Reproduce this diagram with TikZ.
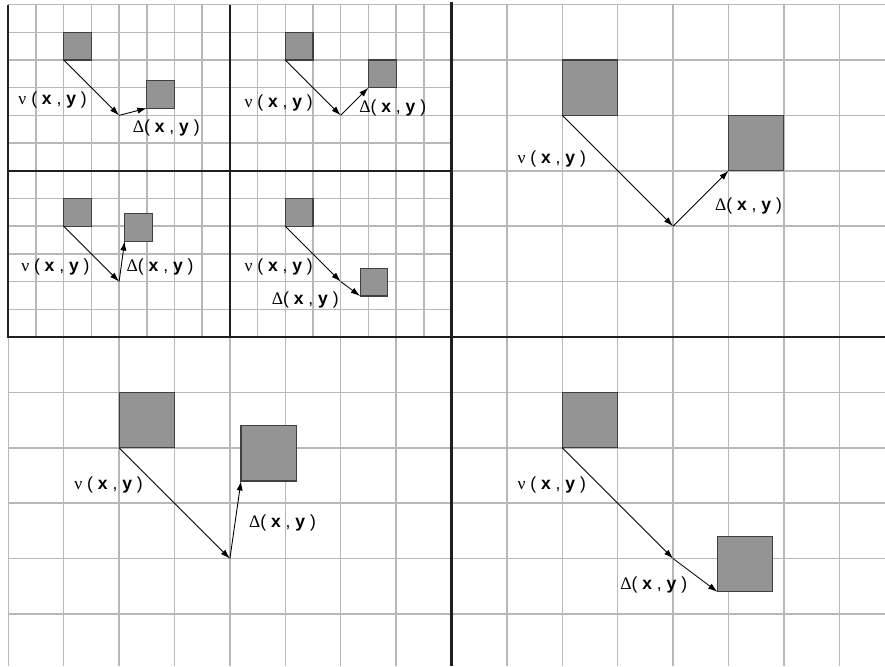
\documentclass[tikz,border=0pt]{standalone}
\usepackage{fontspec}
\setmainfont{Liberation Sans}
\newfontfamily\grkfont{Liberation Serif}
\usetikzlibrary{positioning,arrows.meta}
\newcommand{\nuxy}{{\grkfont ν} ( \textbf{x} , \textbf{y} )}
\newcommand{\dxy}{{\grkfont Δ}( \textbf{x} , \textbf{y} )}

\begin{document}
\begin{tikzpicture}[
    x=1cm, y=1cm,
    gridline/.style={draw=black!28, line width=0.75pt},
    border/.style={draw=black!88, line width=1.2pt},
    blk/.style={draw=black!75, fill=black!42, line width=0.6pt, minimum size=#1,
                inner sep=0pt, outer sep=0pt, anchor=south west},
    arr/.style={-{Latex[length=1.7mm, width=1.1mm]}, line width=0.45pt},
    lbl/.style={font=\fontsize{9}{11}\selectfont, inner sep=0pt}
]
\useasboundingbox (-0.15,-5.94) rectangle (15.825,6.083);

% grids
\draw[gridline, step=0.5] (0,0) grid (8,6);
\draw[gridline, step=1] (8,0) grid (15.825,6);
\draw[gridline, step=1] (0,-5.94) grid (15.825,0);

% quadrant borders
\draw[border] (0,6) -- (0,0) -- (15.825,0);
\draw[border] (8,6.05) -- (8,-5.94);
\draw[border] (4,6) -- (4,0);
\draw[border] (0,3) -- (8,3);

% small panels
\node[blk=5mm] (a1) at (1,5) {};
\node[blk=5mm] (b1) at (2.5,4.13) {};
\coordinate (p1) at (2,4);
\draw[arr] (a1.south west) -- (p1);
\draw[arr] (p1) -- (b1.south west);
\node[lbl] (nu1) at (0.80,4.28) {\nuxy};
\node[lbl] (de1) at (2.85,3.77) {\dxy};

\node[blk=5mm] (a2) at (5,5) {};
\node[blk=5mm] (b2) at (6.5,4.5) {};
\coordinate (p2) at (6,4);
\draw[arr] (a2.south west) -- (p2);
\draw[arr] (p2) -- (b2.south west);
\node[lbl] (nu2) at (4.88,4.22) {\nuxy};
\node[lbl] (de2) at (6.94,4.13) {\dxy};

\node[blk=5mm] (a3) at (1,2) {};
\node[blk=5mm] (b3) at (2.1,1.73) {};
\coordinate (p3) at (2,1);
\draw[arr] (a3.south west) -- (p3);
\draw[arr] (p3) -- (b3.south west);
\node[lbl] (nu3) at (0.85,1.27) {\nuxy};
\node[lbl] (de3) at (2.74,1.27) {\dxy};

\node[blk=5mm] (a4) at (5,2) {};
\node[blk=5mm] (b4) at (6.35,0.74) {};
\coordinate (p4) at (6,1);
\draw[arr] (a4.south west) -- (p4);
\draw[arr] (p4) -- (b4.south west);
\node[lbl] (nu4) at (4.88,1.27) {\nuxy};
\node[lbl] (de4) at (5.36,0.67) {\dxy};

% large panels
\node[blk=1cm] (a5) at (10,4) {};
\node[blk=1cm] (b5) at (13,3) {};
\coordinate (p5) at (12,2);
\draw[arr] (a5.south west) -- (p5);
\draw[arr] (p5) -- (b5.south west);
\node[lbl] (nu5) at (9.81,3.21) {\nuxy};
\node[lbl] (de5) at (13.36,2.37) {\dxy};

\node[blk=1cm] (a6) at (2,-2) {};
\node[blk=1cm] (b6) at (4.2,-2.6) {};
\coordinate (p6) at (4,-4);
\draw[arr] (a6.south west) -- (p6);
\draw[arr] (p6) -- (b6.south west);
\node[lbl] (nu6) at (1.81,-2.67) {\nuxy};
\node[lbl] (de6) at (4.95,-3.36) {\dxy};

\node[blk=1cm] (a7) at (10,-2) {};
\node[blk=1cm] (b7) at (12.8,-4.6) {};
\coordinate (p7) at (12,-4);
\draw[arr] (a7.south west) -- (p7);
\draw[arr] (p7) -- (b7.south west);
\node[lbl] (nu7) at (9.81,-2.67) {\nuxy};
\node[lbl] (de7) at (11.65,-4.48) {\dxy};
\end{tikzpicture}
\end{document}
